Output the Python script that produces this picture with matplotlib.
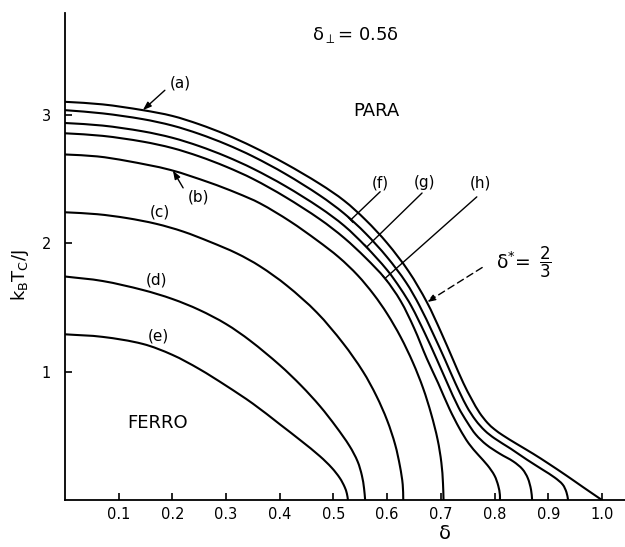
import matplotlib
matplotlib.use("Agg")
import numpy as np
import matplotlib.pyplot as plt
from matplotlib.path import Path
from matplotlib.patches import PathPatch

# Critical temperature kB*Tc/J versus dilution delta (delta_perp = 0.5 delta)
a_x = [0, .07, .145, .20, .25, .30, .35, .41, .475, .52, .56, .60, .64, .674, .70, .723, .742,
       .758, .772, .787, .80, .815, .84, .872, .90, .934, .965, 1.0]
a_y = [3.10, 3.08, 3.035, 2.99, 2.925, 2.845, 2.75, 2.62, 2.46, 2.33, 2.18, 2.0, 1.78, 1.54, 1.31,
       1.09, 0.91, 0.78, 0.68, 0.60, 0.55, 0.505, 0.44, 0.36, 0.285, 0.19, 0.10, 0]

f_x = [0, .07, .145, .20, .25, .30, .35, .41, .475, .52, .56, .60, .635, .66, .685, .708, .727,
       .748, .765, .782, .80, .83, .86, .89, .912, .927, .934, .937]
f_y = [3.035, 3.01, 2.965, 2.915, 2.85, 2.77, 2.675, 2.54, 2.37, 2.23, 2.075, 1.89, 1.695, 1.515,
       1.30, 1.09, 0.91, 0.73, 0.62, 0.54, 0.48, 0.40, 0.315, 0.235, 0.175, 0.12, 0.06, 0]

g_x = [0, .07, .145, .20, .25, .30, .35, .41, .475, .52, .56, .60, .625, .645, .67, .693, .712,
       .733, .75, .765, .785, .81, .835, .852, .862, .868, .87]
g_y = [2.935, 2.915, 2.87, 2.82, 2.755, 2.675, 2.58, 2.445, 2.275, 2.135, 1.975, 1.79, 1.645, 1.51,
       1.30, 1.09, 0.91, 0.72, 0.60, 0.51, 0.43, 0.36, 0.30, 0.24, 0.17, 0.08, 0]

h_x = [0, .07, .145, .20, .25, .30, .35, .41, .475, .52, .56, .596, .625, .65, .674, .695, .716,
       .735, .752, .77, .787, .80, .807, .81, .81]
h_y = [2.855, 2.835, 2.79, 2.74, 2.675, 2.595, 2.50, 2.36, 2.185, 2.04, 1.885, 1.725, 1.55, 1.34,
       1.10, 0.91, 0.71, 0.555, 0.44, 0.35, 0.27, 0.19, 0.11, 0.04, 0]

b_x = [0, .06, .115, .196, .27, .32, .363, .419, .47, .51, .545, .575, .60, .625, .648, .667, .682,
       .694, .701, .704, .705]
b_y = [2.69, 2.675, 2.64, 2.57, 2.47, 2.39, 2.31, 2.17, 2.02, 1.89, 1.75, 1.60, 1.45, 1.27, 1.07,
       0.87, 0.67, 0.47, 0.29, 0.13, 0]

c_x = [0, .06, .115, .17, .22, .27, .32, .363, .413, .469, .518, .555, .58, .60, .615, .624, .629, .63]
c_y = [2.24, 2.225, 2.195, 2.15, 2.09, 2.01, 1.92, 1.82, 1.67, 1.46, 1.22, 1.00, 0.81, 0.62, 0.43,
       0.26, 0.12, 0]

d_x = [0, .07, .145, .20, .25, .30, .345, .40, .44, .475, .505, .53, .545, .553, .557, .559]
d_y = [1.74, 1.705, 1.635, 1.565, 1.48, 1.37, 1.24, 1.05, 0.89, 0.73, 0.57, 0.42, 0.30, 0.19, 0.09, 0]

e_x = [0, .07, .145, .20, .25, .30, .35, .40, .44, .475, .497, .512, .521, .525, .527]
e_y = [1.29, 1.27, 1.215, 1.13, 1.02, 0.89, 0.75, 0.59, 0.46, 0.34, 0.25, 0.17, 0.10, 0.05, 0]

curves = [(a_x, a_y), (f_x, f_y), (g_x, g_y), (h_x, h_y),
          (b_x, b_y), (c_x, c_y), (d_x, d_y), (e_x, e_y)]

x_ticks = [0.1, 0.2, 0.3, 0.4, 0.5, 0.6, 0.7, 0.8, 0.9, 1.0]
x_tick_labels = ["0.1", "0.2", "0.3", "0.4", "0.5", "0.6", "0.7", "0.8", "0.9", "1.0"]
y_ticks = [1, 2, 3]
y_tick_labels = ["1", "2", "3"]

XLIM = (0, 1.043)
YLIM = (0, 3.79)


def smooth_path(xs, ys, xscale, yscale):
    """Bezier path through the points, tangents from chord-length differences."""
    S = np.column_stack([np.asarray(xs, float) * xscale, np.asarray(ys, float) * yscale])
    n = len(S)
    d = np.hypot(*np.diff(S, axis=0).T)
    tang = np.zeros_like(S)
    for i in range(n):
        if i == 0:
            tang[i] = (S[1] - S[0]) / d[0]
        elif i == n - 1:
            tang[i] = (S[-1] - S[-2]) / d[-1]
        else:
            tang[i] = (S[i + 1] - S[i - 1]) / (d[i - 1] + d[i])
    verts = [S[0]]
    codes = [Path.MOVETO]
    for i in range(n - 1):
        c1 = S[i] + tang[i] * d[i] / 3.0
        c2 = S[i + 1] - tang[i + 1] * d[i] / 3.0
        verts += [c1, c2, S[i + 1]]
        codes += [Path.CURVE4] * 3
    verts = np.array(verts) / [xscale, yscale]
    return Path(verts, codes)


plt.rcParams["font.family"] = ["DejaVu Sans"]
plt.rcParams["mathtext.fontset"] = "dejavusans"

fig = plt.figure(figsize=(6.25, 5.47), dpi=100)
ax = fig.add_axes([0.104, 0.0859, 0.896, 0.890])

# pixel-per-unit factors so the smoothing works in screen-like space
xs_px = 560.0 / (XLIM[1] - XLIM[0])
ys_px = 487.0 / (YLIM[1] - YLIM[0])
for cx, cy in curves:
    path = smooth_path(cx, cy, xs_px, ys_px)
    ax.add_patch(PathPatch(path, facecolor="none", edgecolor="black", lw=1.5,
                           capstyle="round", joinstyle="round"))

ax.set_xlim(*XLIM)
ax.set_ylim(*YLIM)
ax.spines["top"].set_visible(False)
ax.spines["right"].set_visible(False)
ax.spines["left"].set_linewidth(1.3)
ax.spines["bottom"].set_linewidth(1.3)
ax.set_xticks(x_ticks)
ax.set_xticklabels(x_tick_labels)
ax.set_yticks(y_ticks)
ax.set_yticklabels(y_tick_labels)
ax.tick_params(axis="both", direction="in", length=5, width=1.2, labelsize=10.5)
ax.tick_params(axis="x", pad=5)
ax.tick_params(axis="y", pad=10)

# Curve labels
lab_fs = 11
ax.text(0.214, 3.25, "(a)", fontsize=lab_fs, ha="center", va="center")
ax.text(0.248, 2.36, "(b)", fontsize=lab_fs, ha="center", va="center")
ax.text(0.177, 2.24, "(c)", fontsize=lab_fs, ha="center", va="center")
ax.text(0.171, 1.71, "(d)", fontsize=lab_fs, ha="center", va="center")
ax.text(0.173, 1.28, "(e)", fontsize=lab_fs, ha="center", va="center")
ax.text(0.587, 2.47, "(f)", fontsize=lab_fs, ha="center", va="center")
ax.text(0.670, 2.47, "(g)", fontsize=lab_fs, ha="center", va="center")
ax.text(0.773, 2.47, "(h)", fontsize=lab_fs, ha="center", va="center")

arrow_kw = dict(arrowstyle="-|>,head_length=0.5,head_width=0.18", color="black", lw=1.0,
                shrinkA=0, shrinkB=0)
ax.annotate("", xy=(0.145, 3.035), xytext=(0.186, 3.19), arrowprops=arrow_kw)
ax.annotate("", xy=(0.201, 2.565), xytext=(0.22, 2.43), arrowprops=arrow_kw)

bar_kw = dict(arrowstyle="|-|,widthA=0,widthB=0.25", color="black", lw=1.0,
              shrinkA=0, shrinkB=0)
ax.annotate("", xy=(0.532, 2.18), xytext=(0.587, 2.40), arrowprops=bar_kw)
ax.annotate("", xy=(0.562, 1.97), xytext=(0.665, 2.39), arrowprops=bar_kw)
ax.annotate("", xy=(0.596, 1.725), xytext=(0.767, 2.36), arrowprops=bar_kw)

# delta* = 2/3 pointer
ax.annotate("", xy=(0.674, 1.54), xytext=(0.777, 1.81),
            arrowprops=dict(arrowstyle="-|>,head_length=0.5,head_width=0.18", color="black",
                            lw=1.0, linestyle=(0, (5, 3)), shrinkA=0, shrinkB=0))
ax.text(0.835, 1.85, "δ$^{*}$=", fontsize=13.5, ha="center", va="center")
ax.text(0.895, 1.85, r"$\dfrac{2}{3}$", fontsize=12, ha="center", va="center")

# Phase region names and parameter
ax.text(0.58, 3.03, "PARA", fontsize=13, ha="center", va="center")
ax.text(0.173, 0.60, "FERRO", fontsize=13, ha="center", va="center")
ax.text(0.54, 3.62, "δ$_{\\perp}$= 0.5δ", fontsize=13, ha="center", va="center")

# Axis titles
fig.text(0.032, 0.497, "k$_{\\rm B}$T$_{\\rm C}$/J", rotation=90, fontsize=13,
         ha="center", va="center")
fig.text(0.712, 0.024, "δ", fontsize=14, ha="center", va="center")

fig.savefig("out.png", dpi=100)
